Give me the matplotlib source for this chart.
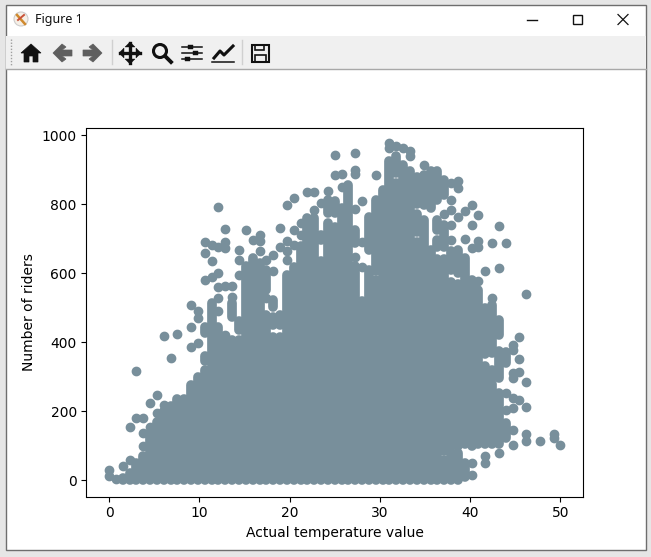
import matplotlib
matplotlib.use("Agg")
import matplotlib.pyplot as plt
from matplotlib.patches import Rectangle, Polygon, Circle

X_LABEL = "Actual temperature value"
Y_LABEL = "Number of riders"
X_TICKS = [0, 10, 20, 30, 40, 50]
Y_TICKS = [0, 200, 400, 600, 800, 1000]
POINT_COLOR = "#788f9b"

# Temperature columns (the data sits on a discrete grid of temperatures)
TEMPERATURE = [0.0, 0.76, 1.52, 2.27, 3.03, 3.79, 4.55, 5.3, 6.06, 6.82, 7.58,
               8.33, 9.09, 9.85, 10.61, 11.36, 12.12, 12.88, 13.64, 14.39, 15.15,
               15.91, 16.67, 17.42, 18.18, 18.94, 19.7, 20.45, 21.21, 21.97, 22.73,
               23.48, 24.24, 25.0, 25.76, 26.52, 27.27, 28.03, 28.79, 29.55, 30.3,
               31.06, 31.82, 32.58, 33.33, 34.09, 34.85, 35.61, 36.36, 37.12, 37.88,
               38.64, 39.39, 40.15, 40.91, 41.67, 42.42, 43.18, 43.94, 44.7, 45.45,
               46.21, 46.97, 47.73, 48.48, 49.24, 50.0]

# Rider ranges where points overlap into a solid mass, per temperature column
DENSE_RANGES = [
    [], [], [(2, 8)], [(2, 20)], [(2, 50)], [(2, 70)], [(2, 130)], [(2, 170)],
    [(2, 200)], [(2, 215)], [(2, 235)], [(2, 235)], [(2, 275)], [(2, 300)],
    [(2, 320), (345, 361), (426, 445)],
    [(2, 430), (445, 513)],
    [(2, 445)],
    [(2, 406)],
    [(2, 406), (474, 513)],
    [(2, 406), (436, 460)],
    [(2, 620)],
    [(2, 643)],
    [(2, 629)],
    [(2, 479), (552, 610)],
    [(2, 416), (450, 474), (503, 523)],
    [(2, 300), (310, 345), (355, 380), (390, 416), (450, 479)],
    [(2, 595)],
    [(2, 619)],
    [(2, 680)],
    [(2, 760)],
    [(2, 760)],
    [(2, 634), (697, 711)],
    [(2, 745), (774, 812)],
    [(2, 735), (774, 808)],
    [(2, 790)],
    [(2, 856)],
    [(2, 620), (687, 725)],
    [(2, 520)],
    [(2, 610), (668, 764)],
    [(2, 580), (605, 812)],
    [(2, 841)],
    [(2, 924)],
    [(2, 860), (890, 938)],
    [(2, 750), (775, 914)],
    [(2, 895)],
    [(2, 690), (720, 770), (800, 880)],
    [(2, 755), (798, 885)],
    [(2, 668), (790, 895)],
    [(2, 640), (677, 697), (725, 755), (812, 895)],
    [(2, 60), (85, 600), (620, 640), (677, 740), (827, 870)],
    [(2, 40), (55, 80), (95, 575), (610, 663)],
    [(2, 20), (40, 80), (100, 570), (600, 668)],
    [(10, 50), (105, 643)],
    [(100, 581)],
    [(105, 552)],
    [(105, 330), (365, 385), (410, 498)],
    [(105, 160), (175, 280), (300, 320), (370, 508)],
    [(105, 200), (215, 252), (295, 375), (421, 465)],
    [(122, 165), (339, 373)],
    [], [], [], [], [], [], [], [],
]

# Individually visible points, per temperature column
LOOSE_RIDERS = [
    [11, 30], [5], [40], [60, 155], [180, 317], [98, 138, 180], [155, 223], [194, 246],
    [218, 417], [354], [424], [], [385, 443, 508], [397, 470, 489], [581, 658, 690],
    [588, 636, 682], [489, 527, 561, 600, 677, 791], [421, 564, 672, 690, 729],
    [532, 564], [595, 639, 668], [725], [697], [663, 692, 711], [527, 639], [605, 653],
    [677, 730], [639, 663, 692, 798], [682, 724, 817], [711, 745], [835], [783, 835],
    [803], [837], [885, 943], [851, 887], [], [648, 786, 888, 900, 948], [619, 690, 810],
    [], [885], [], [962, 977], [969], [962], [938, 953], [], [914], [], [],
    [772], [697, 740, 784, 812, 861], [764, 846, 866], [700, 779],
    [15, 51, 672, 740, 798], [576, 677, 692, 769], [49, 69, 605], [527, 687],
    [78, 615, 737], [204, 252, 687], [102, 146, 209, 238, 296, 310, 376, 392],
    [233, 315, 351, 416], [115, 134, 212, 285, 539], [], [115], [], [122, 134], [102],
]

W, H = 651, 557
fig = plt.figure(figsize=(W / 100, H / 100), dpi=100, facecolor="white")

# ---------- window frame drawn behind the chart (pixel coordinates) ----------
ch = fig.add_axes([0, 0, 1, 1], zorder=0)
ch.set_xlim(0, W)
ch.set_ylim(H, 0)
ch.axis("off")
ink = "#111111"
grey = "#5f5f5f"
ch.add_patch(Rectangle((0, 0), W, H, fc="#e6e6e6", ec="none"))
ch.add_patch(Rectangle((5.5, 4.5), 640.5, 545, fc="white", ec="#6e6e6e", lw=1))
ch.add_patch(Rectangle((6, 36), 639.5, 32.5, fc="#f0f0f0", ec="none"))
ch.plot([6, 645.5], [68.5, 68.5], color="#a8a8a8", lw=1)
ch.text(35, 20, "Figure 1", fontsize=9, family="Noto Sans", va="center", color="#111111")
# application icon
ch.add_patch(Circle((21, 19), 7, fc="#f6efe6", ec="#cccccc", lw=0.8))
ch.plot([17, 25], [15, 24], color="#d08a2e", lw=1.8)
ch.plot([24, 18], [15, 20], color="#c9533a", lw=1.4)
# window buttons
ch.plot([527, 537], [19.5, 19.5], color=ink, lw=1)
ch.add_patch(Rectangle((572.5, 14.5), 9, 9, fc="none", ec=ink, lw=1))
ch.plot([618, 628], [14.5, 24.5], color=ink, lw=0.9)
ch.plot([618, 628], [24.5, 14.5], color=ink, lw=0.9)
# toolbar grip and separators
ch.plot([11, 11], [39, 65], color="#a0a0a0", lw=1, ls=(0, (1, 1.2)))
for sx in (111.5, 241.5):
    ch.plot([sx, sx], [40, 64], color="#d0d0d0", lw=1)
# home
ch.add_patch(Polygon([(21, 53), (31, 44), (41, 53), (38, 53), (38, 62), (33, 62), (33, 56),
                      (29, 56), (29, 62), (24, 62), (24, 53)], fc=ink, ec=ink, lw=0.5))
# back / forward arrows
ch.add_patch(Polygon([(53, 53), (62, 44), (66, 47), (62, 50), (72, 50), (72, 56), (62, 56),
                      (66, 59), (62, 62)], fc=grey, ec=grey, lw=0.5))
ch.add_patch(Polygon([(102, 53), (93, 44), (89, 47), (93, 50), (83, 50), (83, 56), (93, 56),
                      (89, 59), (93, 62)], fc=grey, ec=grey, lw=0.5))
# pan
ch.plot([120, 140], [53, 53], color=ink, lw=2.4)
ch.plot([130, 130], [43, 63], color=ink, lw=2.4)
for pts in ([(119, 53), (124, 48), (124, 58)], [(141, 53), (136, 48), (136, 58)],
            [(130, 42), (125, 47), (135, 47)], [(130, 64), (125, 59), (135, 59)]):
    ch.add_patch(Polygon(pts, fc=ink, ec=ink, lw=0.3))
# zoom
ch.add_patch(Circle((160, 51), 6.5, fc="none", ec=ink, lw=2.2))
ch.plot([165, 171], [56, 62], color=ink, lw=2.8)
# sliders
for sy, sx in ((47, 190), (53, 195), (59, 187)):
    ch.plot([182, 202], [sy, sy], color=ink, lw=1.1)
    ch.add_patch(Rectangle((sx - 2.5, sy - 2), 5, 4, fc=ink, ec=ink, lw=0.3))
# axes icon
ch.plot([212, 234], [62, 62], color=ink, lw=1.1)
ch.plot([214, 220, 224, 233], [58, 51, 55, 46], color=ink, lw=2.2)
# save
ch.add_patch(Rectangle((251.5, 44.5), 17, 17, fc="none", ec=ink, lw=1.5))
ch.add_patch(Rectangle((255, 45), 9, 5, fc="none", ec=ink, lw=1.2))
ch.add_patch(Rectangle((254.5, 55), 11, 6.5, fc="none", ec=ink, lw=1.2))

# ---------- chart ----------
ax = fig.add_axes([86.5 / W, 1 - 496.5 / H, 496.5 / W, 369 / H], zorder=1)
for x, ranges in zip(TEMPERATURE, DENSE_RANGES):
    for low, high in ranges:
        ax.vlines(x, low, high, colors=POINT_COLOR, linewidth=7, capstyle="round")
for x, riders in zip(TEMPERATURE, LOOSE_RIDERS):
    if riders:
        ax.scatter([x] * len(riders), riders, s=36, color=POINT_COLOR, linewidths=1)

ax.set_xlim(-2.5, 52.5)
ax.set_ylim(-47, 1022)
ax.set_xticks(X_TICKS)
ax.set_yticks(Y_TICKS)
ax.set_xlabel(X_LABEL)
ax.set_ylabel(Y_LABEL)

fig.savefig("out.png", dpi=100)
